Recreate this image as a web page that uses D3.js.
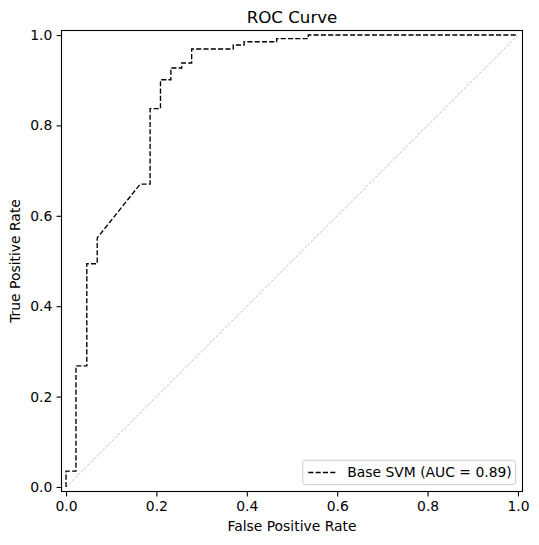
<!DOCTYPE html>
<html>
<head>
<meta charset="utf-8">
<script src="https://cdn.jsdelivr.net/npm/d3@7"></script>
<style>
  html, body { margin: 0; padding: 0; background: #fff; }
  svg { display: block; font-family: "DejaVu Sans", sans-serif; }
</style>
</head>
<body>
<svg id="chart" width="539" height="545"></svg>
<script>
// ---- data ----
const fpr = [0, 0, 0.022, 0.022, 0.046, 0.046, 0.069, 0.069, 0.164, 0.186, 0.186, 0.209, 0.209,
             0.232, 0.232, 0.256, 0.256, 0.278, 0.278, 0.370, 0.370, 0.394, 0.394, 0.466, 0.466,
             0.536, 0.536, 1.0];
const tpr = [0, 0.035, 0.035, 0.268, 0.268, 0.494, 0.494, 0.551, 0.670, 0.670, 0.837, 0.837, 0.901,
             0.901, 0.927, 0.927, 0.938, 0.938, 0.969, 0.969, 0.978, 0.978, 0.985, 0.985, 0.992,
             0.992, 1.0, 1.0];
const chanceX = [0, 1];
const chanceY = [0, 1];
const xTicks = [0.0, 0.2, 0.4, 0.6, 0.8, 1.0];
const yTicks = [0.0, 0.2, 0.4, 0.6, 0.8, 1.0];
const titleText = "ROC Curve";
const xLabel = "False Positive Rate";
const yLabel = "True Positive Rate";
const legendLabel = "Base SVM (AUC = 0.89)";

// ---- layout ----
const L = 61.5, R = 522.5, T = 30.5, B = 491.5;
const svg = d3.select("#chart");
const x = d3.scaleLinear().domain([-0.01, 1.01]).range([L, R]);
const y = d3.scaleLinear().domain([-0.01, 1.01]).range([B, T]);
const fs = 13.9;

// chance line
svg.append("path")
  .datum(chanceX.map((v, i) => [v, chanceY[i]]))
  .attr("d", d3.line().x(d => x(d[0])).y(d => y(d[1])))
  .attr("fill", "none")
  .attr("stroke", "#808080")
  .attr("stroke-width", 0.8)
  .attr("stroke-dasharray", "0.8,1.3");

// ROC curve
svg.append("path")
  .datum(fpr.map((v, i) => [v, tpr[i]]))
  .attr("d", d3.line().x(d => x(d[0])).y(d => y(d[1])))
  .attr("fill", "none")
  .attr("stroke", "#000")
  .attr("stroke-width", 1.35)
  .attr("stroke-dasharray", "5.1,2.2");

// axes
const xAxis = d3.axisBottom(x).tickValues(xTicks).tickFormat(d3.format(".1f")).tickSize(4.9).tickPadding(3.5);
const yAxis = d3.axisLeft(y).tickValues(yTicks).tickFormat(d3.format(".1f")).tickSize(4.9).tickPadding(3.5);

const gx = svg.append("g").attr("transform", `translate(0,${B})`).call(xAxis);
const gy = svg.append("g").attr("transform", `translate(${L},0)`).call(yAxis);
[gx, gy].forEach(g => {
  g.select(".domain").remove();
  g.selectAll(".tick line").attr("stroke", "#000").attr("stroke-width", 1.1);
  g.selectAll(".tick text").attr("fill", "#000").style("font-size", fs + "px")
    .style("font-family", "'DejaVu Sans', sans-serif");
});
gx.selectAll(".tick text").attr("dy", "0.71em").attr("y", 9.4);
gy.selectAll(".tick text").attr("x", -9.2).attr("dy", "0.32em");

// frame
svg.append("rect")
  .attr("x", L).attr("y", T).attr("width", R - L).attr("height", B - T)
  .attr("fill", "none").attr("stroke", "#000").attr("stroke-width", 1.1);

// title & labels
svg.append("text").attr("x", (L + R) / 2).attr("y", 22.5)
  .attr("text-anchor", "middle").style("font-size", "16.67px").text(titleText);
svg.append("text").attr("x", (L + R) / 2).attr("y", 531)
  .attr("text-anchor", "middle").style("font-size", fs + "px").text(xLabel);
svg.append("text")
  .attr("transform", `translate(20,${(T + B) / 2}) rotate(-90)`)
  .attr("text-anchor", "middle").style("font-size", fs + "px").text(yLabel);

// legend
const lg = svg.append("g");
const lgX = 302.7, lgY = 460.3, lgW = 515.6 - 302.7, lgH = 24.3;
lg.append("rect").attr("x", lgX).attr("y", lgY).attr("width", lgW).attr("height", lgH)
  .attr("rx", 2.8).attr("ry", 2.8)
  .attr("fill", "rgba(255,255,255,0.8)").attr("stroke", "#cccccc").attr("stroke-width", 1);
lg.append("line")
  .attr("x1", lgX + 5.6).attr("x2", lgX + 5.6 + 27.8)
  .attr("y1", lgY + lgH / 2).attr("y2", lgY + lgH / 2)
  .attr("stroke", "#000").attr("stroke-width", 1.35).attr("stroke-dasharray", "5.1,2.2");
lg.append("text").attr("x", lgX + 5.6 + 27.8 + 11.1).attr("y", lgY + lgH / 2)
  .attr("dy", "0.36em").style("font-size", fs + "px").text(legendLabel);
</script>
</body>
</html>
